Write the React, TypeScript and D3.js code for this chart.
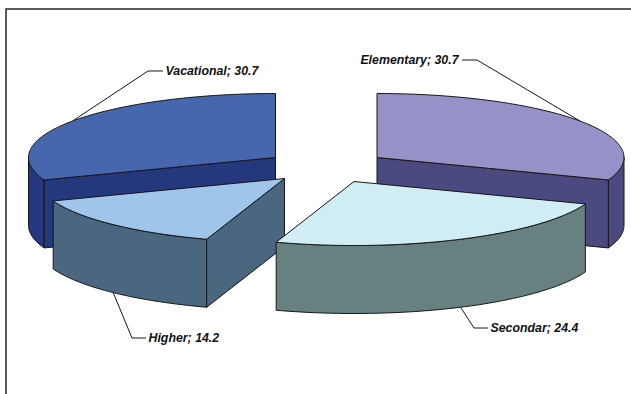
import React from "react";
import * as d3 from "d3";

// Share of respondents by education level
const categories = ["Elementary", "Secondar", "Higher", "Vacational"];
const shares = [30.7, 24.4, 14.2, 30.7];
const topColors = ["#9492c6", "#cfedf3", "#9fc6ea", "#4667ad"];
const wallColors = ["#4b4a80", "#678180", "#4b667f", "#25377d"];
// Pulled-out position of each slice's apex on the top plane
const apexX = [377, 354, 284.5, 275.5];
const apexY = [157.5, 181.5, 178.5, 157.5];
// Label placement: elbow of the leader line, where it stops, and the text's side
const elbowX = [477, 474, 132, 148];
const elbowY = [60, 328, 338, 71];
const labelX = [462, 488, 146, 163];
const labelAnchors = ["end", "start", "start", "start"];

const WIDTH = 631;
const HEIGHT = 394;
const RX = 247;
const RY = 64;
const DEPTH = 68;
const EDGE = "#161616";

const xUnit = d3.scaleLinear().domain([-1, 1]).range([-RX, RX]);
const yUnit = d3.scaleLinear().domain([-1, 1]).range([RY, -RY]);

type Pt = [number, number];

const rim = (cx: number, cy: number, a: number): Pt => [
  cx + xUnit(Math.sin(a)),
  cy + yUnit(Math.cos(a)),
];

const arcPoints = (cx: number, cy: number, a0: number, a1: number): Pt[] => {
  const n = Math.max(2, Math.ceil(Math.abs(a1 - a0) * 60));
  return d3.range(n + 1).map((i) => rim(cx, cy, a0 + ((a1 - a0) * i) / n));
};

const line = d3.line<Pt>();
const closed = (pts: Pt[]) => `${line(pts)}Z`;
const down = (pts: Pt[]): Pt[] => pts.map(([x, y]) => [x, y + DEPTH]);

const arcs = d3
  .pie<number>()
  .sort(null)
  .startAngle(0)
  .endAngle(2 * Math.PI)(shares);

const slices = categories.map((name, i) => ({
  name,
  value: shares[i],
  a0: arcs[i].startAngle,
  a1: arcs[i].endAngle,
  cx: apexX[i],
  cy: apexY[i],
  top: topColors[i],
  wall: wallColors[i],
  elbow: [elbowX[i], elbowY[i]] as Pt,
  labelX: labelX[i],
  labelAnchor: labelAnchors[i],
}));

// Slices nearer the viewer are painted later
const painted = d3.sort(slices, (s) => s.cy);

function Slice({ s }: { s: (typeof slices)[number] }) {
  const apex: Pt = [s.cx, s.cy];
  const start = rim(s.cx, s.cy, s.a0);
  const end = rim(s.cx, s.cy, s.a1);
  const topArc = arcPoints(s.cx, s.cy, s.a0, s.a1);

  // Outer wall only where the rim faces the viewer
  const from = Math.max(s.a0, Math.PI / 2);
  const to = Math.min(s.a1, (3 * Math.PI) / 2);
  const front = from < to ? arcPoints(s.cx, s.cy, from, to) : null;

  const sides: Pt[] = [];
  if (Math.sin(s.a0) < -1e-6) sides.push(start);
  if (Math.sin(s.a1) > 1e-6) sides.push(end);

  return (
    <g stroke={EDGE} strokeWidth={1} strokeLinejoin="round">
      {front && (
        <path d={closed([...front, ...down(front).reverse()])} fill={s.wall} />
      )}
      {sides.map((p, i) => (
        <path
          key={i}
          d={closed([apex, p, [p[0], p[1] + DEPTH], [apex[0], apex[1] + DEPTH]])}
          fill={s.wall}
        />
      ))}
      <path d={closed([apex, ...topArc])} fill={s.top} />
    </g>
  );
}

function Label({ s }: { s: (typeof slices)[number] }) {
  const mid = (s.a0 + s.a1) / 2;
  const [ax, ay] = rim(s.cx, s.cy, mid);
  const anchor: Pt = [ax, Math.cos(mid) < 0 ? ay + DEPTH : ay];
  const leftward = s.labelAnchor === "end";
  return (
    <g>
      <path
        d={line([anchor, s.elbow, [s.labelX, s.elbow[1]]]) ?? ""}
        fill="none"
        stroke={EDGE}
        strokeWidth={1}
      />
      <text
        x={leftward ? s.labelX - 3.5 : s.labelX + 2.5}
        y={s.elbow[1]}
        dy="0.35em"
        textAnchor={s.labelAnchor}
        fontFamily="'Liberation Sans', Arial, sans-serif"
        fontSize={12.35}
        fontWeight="bold"
        fontStyle="italic"
        fill="#111"
      >
        {`${s.name}; ${s.value}`}
      </text>
    </g>
  );
}

export default function App() {
  return (
    <svg
      width={WIDTH}
      height={HEIGHT}
      viewBox={`0 0 ${WIDTH} ${HEIGHT}`}
      style={{ position: "fixed", left: 0, top: 0, background: "#fff" }}
    >
      <rect
        x={6}
        y={9}
        width={WIDTH + 20}
        height={HEIGHT + 20}
        fill="none"
        stroke="#333"
        strokeWidth={1.6}
      />
      {slices.map((s) => (
        <Label key={s.name} s={s} />
      ))}
      {painted.map((s) => (
        <Slice key={s.name} s={s} />
      ))}
    </svg>
  );
}
